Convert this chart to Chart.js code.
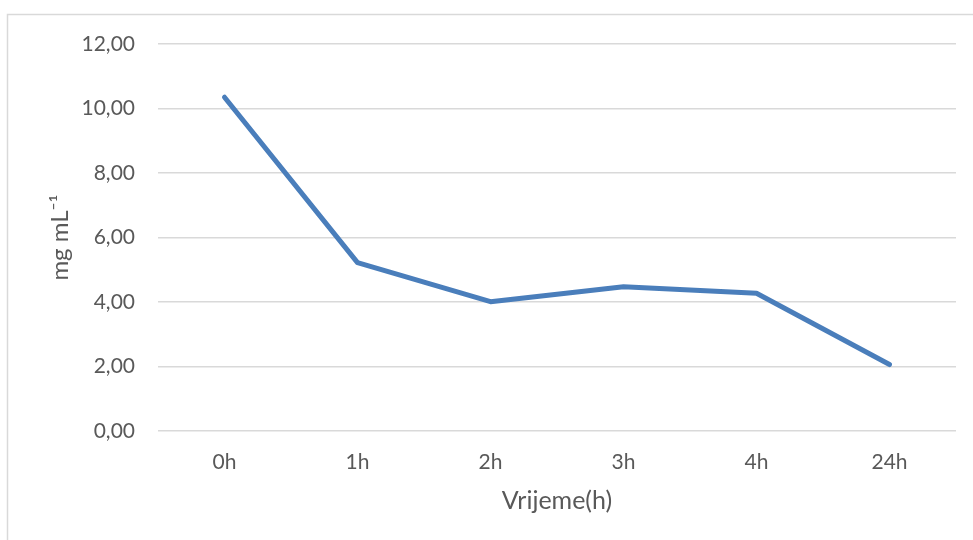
<!DOCTYPE html>
<html>
<head>
<meta charset="utf-8">
<script src="https://cdn.jsdelivr.net/npm/chart.js@4"></script>
<style>
  html, body { margin: 0; padding: 0; background: #fff; }
  #wrap { width: 973px; height: 540px; }
</style>
</head>
<body>
<div id="wrap"><canvas id="grafica"></canvas></div>
<script>
const vremena = ['0h', '1h', '2h', '3h', '4h', '24h'];
const koncentracija = [10.35, 5.22, 4.01, 4.47, 4.27, 2.06];
const yTicks = [0, 2, 4, 6, 8, 10, 12];

const FONT = 'Lato, "Noto Sans", sans-serif';
const SIVA = '#595959';

// okvir grafa (samo lijevi i gornji rub se vidi)
const okvir = {
  id: 'okvir',
  beforeDraw(chart) {
    const c = chart.ctx;
    c.save();
    c.fillStyle = '#fff';
    c.fillRect(0, 0, chart.width, chart.height);
    c.strokeStyle = '#d9d9d9';
    c.lineWidth = 1.5;
    c.strokeRect(7.5, 14.5, chart.width + 20, chart.height + 20);
    c.restore();
  }
};

const ctx = document.getElementById('grafica').getContext('2d');
new Chart(ctx, {
  type: 'line',
  data: {
    labels: vremena,
    datasets: [{
      label: 'mg mL-1',
      data: koncentracija,
      borderColor: '#4a7ebb',
      borderWidth: 5,
      borderCapStyle: 'round',
      borderJoinStyle: 'round',
      pointRadius: 0,
      tension: 0,
      fill: false
    }]
  },
  options: {
    responsive: true,
    maintainAspectRatio: false,
    animation: false,
    layout: { padding: { left: 42, top: 44, right: 17, bottom: 20 } },
    plugins: { legend: { display: false }, tooltip: { enabled: false } },
    scales: {
      x: {
        offset: true,
        grid: { display: false },
        border: { display: false },
        ticks: { color: SIVA, font: { family: FONT, size: 21 }, padding: 11 },
        title: {
          display: true,
          text: 'Vrijeme(h)',
          color: SIVA,
          font: { family: FONT, size: 25 },
          padding: { top: 4, bottom: 4 }
        },
        afterFit(scale) { scale.height = 89; }
      },
      y: {
        min: 0,
        max: 12,
        afterBuildTicks(scale) { scale.ticks = yTicks.map(v => ({ value: v })); },
        grid: { color: '#d9d9d9', lineWidth: 1.5, drawTicks: false },
        border: { display: false },
        ticks: {
          color: SIVA,
          font: { family: FONT, size: 21 },
          padding: 23,
          callback: v => v.toFixed(2).replace('.', ',')
        },
        title: {
          display: true,
          text: 'mg mL\u207B\u00B9',
          color: SIVA,
          font: { family: FONT, size: 24 },
          padding: { top: 4, bottom: 4 }
        },
        afterFit(scale) { scale.width = 116; }
      }
    }
  },
  plugins: [okvir]
});
</script>
</body>
</html>
